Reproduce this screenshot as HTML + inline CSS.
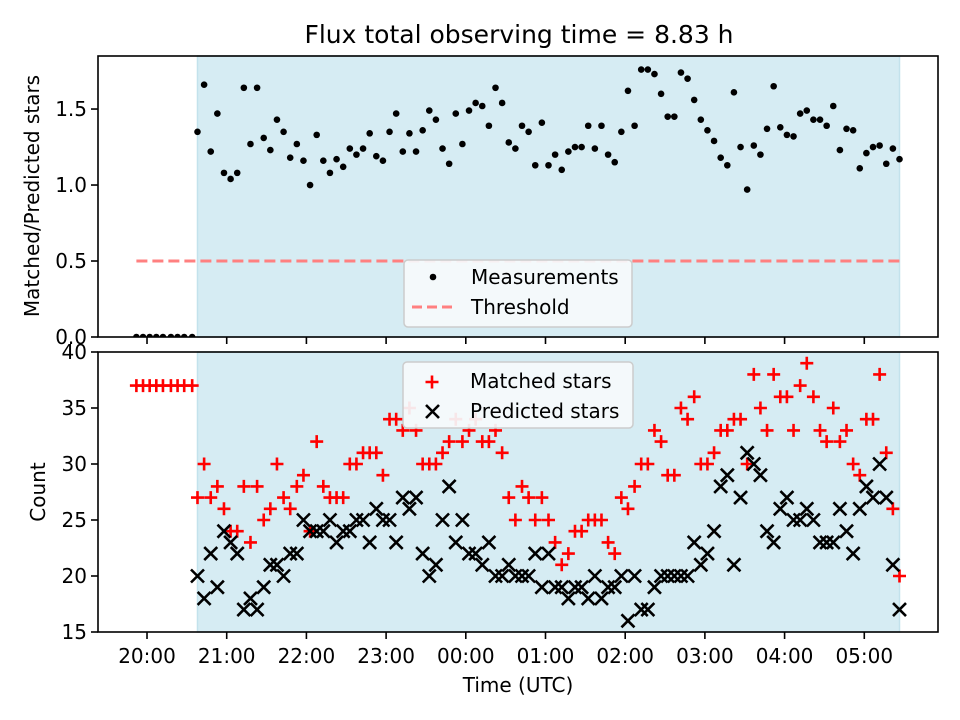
<!DOCTYPE html>
<html><head><meta charset="utf-8"><style>
html,body{margin:0;padding:0;background:#fff;}
svg{display:block;font-family:"DejaVu Sans","Liberation Sans",sans-serif;}
</style></head><body>
<svg id="chart" width="960" height="720" viewBox="0 0 960 720" xmlns="http://www.w3.org/2000/svg">
<defs>
<clipPath id="clipTop"><rect x="98" y="56" width="840" height="281"/></clipPath>
<clipPath id="clipBot"><rect x="98" y="352" width="840" height="280"/></clipPath>
</defs>
<text x="519" y="43" text-anchor="middle" font-size="25">Flux total observing time = 8.83 h</text>
<g id="topPanel"></g>
<g id="botPanel"></g>
<text transform="translate(39,196) rotate(-90)" text-anchor="middle" font-size="20">Matched/Predicted stars</text>
<text transform="translate(45,492) rotate(-90)" text-anchor="middle" font-size="20">Count</text>
<text x="518" y="692" text-anchor="middle" font-size="20">Time (UTC)</text>
</svg>
<script>
// minutes after 20:00 UTC
const preTimes = [-8, -3, 2, 7, 12, 18, 23, 28, 34];
const preRatio = [0,0,0,0,0,0,0,0,0];
const preMatched = [37,37,37,37,37,37,37,37,37];
const obsStartMin = 38;
const obsStepMin = 4.986;
const ratio = [1.35,1.66,1.22,1.47,1.08,1.04,1.08,1.64,1.27,1.64,
1.31,1.23,1.43,1.35,1.18,1.27,1.16,1.00,1.33,1.16,
1.08,1.17,1.12,1.24,1.20,1.24,1.34,1.19,1.16,1.35,
1.47,1.22,1.34,1.22,1.36,1.49,1.43,1.24,1.14,1.47,
1.27,1.49,1.54,1.52,1.39,1.64,1.54,1.28,1.24,1.39,
1.35,1.13,1.41,1.13,1.20,1.10,1.22,1.25,1.25,1.39,
1.24,1.39,1.20,1.15,1.35,1.62,1.39,1.76,1.76,1.73,
1.60,1.45,1.45,1.74,1.70,1.56,1.43,1.36,1.29,1.18,
1.13,1.61,1.25,0.97,1.26,1.20,1.37,1.65,1.38,1.33,
1.32,1.47,1.49,1.43,1.43,1.39,1.52,1.23,1.37,1.36,
1.11,1.21,1.25,1.26,1.14,1.24,1.17];
const matched = [27,30,27,28,26,24,24,28,23,28,
25,26,30,27,26,28,29,24,32,28,
27,27,27,30,30,31,31,31,29,34,
34,33,35,33,30,30,30,31,32,34,
32,33,34,32,32,33,31,27,25,28,
27,25,27,25,23,21,22,24,24,25,
25,25,23,22,27,26,28,30,30,33,
32,29,29,35,34,36,30,30,31,33,
33,34,34,30,38,35,33,38,36,36,
33,37,39,36,33,32,35,32,33,30,
29,34,34,38,31,26,20];
const predicted = [20,18,22,19,24,23,22,17,18,17,
19,21,21,20,22,22,25,24,24,24,
25,23,24,24,25,25,23,26,25,25,
23,27,26,27,22,20,21,25,28,23,
25,22,22,21,23,20,20,21,20,20,
20,22,19,22,19,19,18,19,19,18,
20,18,19,19,20,16,20,17,17,19,
20,20,20,20,20,23,21,22,24,28,
29,21,27,31,30,29,24,23,26,27,
25,25,26,25,23,23,23,26,24,22,
26,28,27,30,27,21,17];
const threshold = 0.5;
const xTickLabels = ["20:00","21:00","22:00","23:00","00:00","01:00","02:00","03:00","04:00","05:00"];
const xTickMins = [0,60,120,180,240,300,360,420,480,540];
const topYTicks = [0.0,0.5,1.0,1.5];
const topYTickLabels = ["0.0","0.5","1.0","1.5"];
const botYTicks = [15,20,25,30,35,40];

const NS = "http://www.w3.org/2000/svg";
const times = ratio.map((v,i)=>obsStartMin + obsStepMin*i);
const X0=98, X1=938, XMIN=-36.9, XMAX=595.5;
function xs(m){return X0+(m-XMIN)/(XMAX-XMIN)*(X1-X0);}
const TT=56, TB=337, TMAX=1.849;
function yTop(v){return TB-(v/TMAX)*(TB-TT);}
const BT=352, BB=632;
function yBot(v){return BB-(v-15)/25*(BB-BT);}
function mk(tag, attrs, parent){const e=document.createElementNS(NS,tag);for(const k in attrs)e.setAttribute(k,attrs[k]);parent.appendChild(e);return e;}

const topG=document.getElementById('topPanel');
const botG=document.getElementById('botPanel');
const spanX0=xs(times[0]), spanX1=xs(times[times.length-1]);

function panel(g, yt, yb, clip){
  const s=mk('rect',{x:spanX0,y:yt,width:spanX1-spanX0,height:yb-yt,fill:'#d6ecf3',stroke:'#c3e2ec','stroke-width':1.5},g);
  
  
  const d=mk('g',{'clip-path':'url(#'+clip+')'},g);
  return d;
}
// TOP
const td=panel(topG,TT,TB,'clipTop');
const th=mk('line',{x1:xs(preTimes[0]),x2:xs(times[times.length-1]),y1:yTop(threshold),y2:yTop(threshold),stroke:'#ff8080','stroke-width':3,'stroke-dasharray':'11,5'},td);


const allT=preTimes.concat(times), allR=preRatio.concat(ratio);
allT.forEach((t,i)=>{
  const c=mk('circle',{cx:xs(t),cy:yTop(allR[i]),r:3.3,fill:'#000'},td);
  
  
});
// BOTTOM
const bd=panel(botG,BT,BB,'clipBot');
const allM=preMatched.concat(matched);
allT.forEach((t,i)=>{
  const x=xs(t), y=yBot(allM[i]);
  const p=mk('path',{d:`M${x-6.5},${y}H${x+6.5}M${x},${y-6.5}V${y+6.5}`,stroke:'#ff0000','stroke-width':2.6,fill:'none'},bd);
  
  
});
times.forEach((t,i)=>{
  const x=xs(t), y=yBot(predicted[i]);
  const p=mk('path',{d:`M${x-6.5},${y-6.5}L${x+6.5},${y+6.5}M${x-6.5},${y+6.5}L${x+6.5},${y-6.5}`,stroke:'#000','stroke-width':2.6,fill:'none'},bd);
  
  
});

// axes frames and ticks
function frame(g, yt, yb){
  const f=mk('rect',{x:X0,y:yt,width:X1-X0,height:yb-yt,fill:'none',stroke:'#000','stroke-width':1.6},g);
  
  
  xTickMins.forEach(m=>{
    const l=mk('line',{x1:xs(m),x2:xs(m),y1:yb,y2:yb+7,stroke:'#000','stroke-width':1.6},g);
    
    
  });
}
frame(topG,TT,TB);
frame(botG,BT,BB);
topYTicks.forEach((v,i)=>{
  const y=yTop(v);
  const l=mk('line',{x1:X0-7,x2:X0,y1:y,y2:y,stroke:'#000','stroke-width':1.6},topG);
  
  
  const t=mk('text',{x:X0-11,y:y+7,'text-anchor':'end','font-size':20},topG);
  t.textContent=topYTickLabels[i];
  
  
});
botYTicks.forEach(v=>{
  const y=yBot(v);
  const l=mk('line',{x1:X0-7,x2:X0,y1:y,y2:y,stroke:'#000','stroke-width':1.6},botG);
  
  
  const t=mk('text',{x:X0-11,y:y+7,'text-anchor':'end','font-size':20},botG);
  t.textContent=String(v);
  
  
});
xTickMins.forEach((m,i)=>{
  const t=mk('text',{x:xs(m),y:BB+31,'text-anchor':'middle','font-size':20},botG);
  t.textContent=xTickLabels[i];
  
  
});

// legends
function legendBox(g,x,y,w,h){
  const r=mk('rect',{x:x,y:y,width:w,height:h,rx:4,fill:'#f6fafc','fill-opacity':0.92,stroke:'#cccccc','stroke-width':1.5},g);
  
  
}
legendBox(topG,404,260,228,67);
const ld=mk('circle',{cx:433,cy:277,r:3.3,fill:'#000'},topG);


const lt1=mk('text',{x:471,y:284,'font-size':20},topG);lt1.textContent='Measurements';


const ll=mk('line',{x1:412,x2:455,y1:307,y2:307,stroke:'#ff8080','stroke-width':3,'stroke-dasharray':'10,5'},topG);


const lt2=mk('text',{x:471,y:314,'font-size':20},topG);lt2.textContent='Threshold';



legendBox(botG,403,362,230,66);
const lp=mk('path',{d:'M425.5,382H438.5M432,375.5V388.5',stroke:'#ff0000','stroke-width':2.6},botG);


const lt3=mk('text',{x:470,y:388,'font-size':20},botG);lt3.textContent='Matched stars';


const lx=mk('path',{d:'M426,405L439,418M426,418L439,405',stroke:'#000','stroke-width':2.6},botG);


const lt4=mk('text',{x:470,y:418,'font-size':20},botG);lt4.textContent='Predicted stars';


</script>
</body></html>
